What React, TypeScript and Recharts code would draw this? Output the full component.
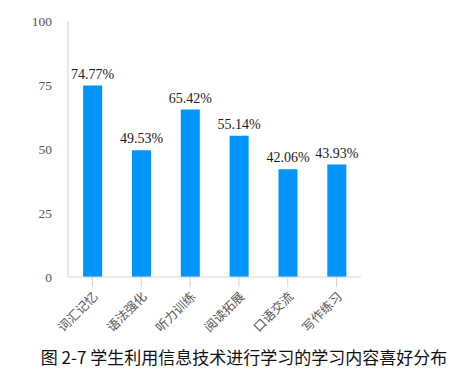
import React from "react";
import { BarChart, Bar, XAxis, YAxis, LabelList } from "recharts";

const categories = ["词汇记忆", "语法强化", "听力训练", "阅读拓展", "口语交流", "写作练习"];
const values = [74.77, 49.53, 65.42, 55.14, 42.06, 43.93];
const yTicks = [0, 25, 50, 75, 100];
const title = "图 2-7 学生利用信息技术进行学习的学习内容喜好分布";

const data = categories.map((name, i) => ({ name, value: values[i] }));

export default function App() {
  return (
    <div style={{ position: "absolute", left: 0, top: 0, width: 456, height: 377, background: "#fff" }}>
      <BarChart
        width={456}
        height={377}
        data={data}
        margin={{ top: 21, right: 95, bottom: 0, left: 0 }}
        barCategoryGap="31%"
      >
        <XAxis
          dataKey="name"
          interval={0}
          angle={-45}
          textAnchor="end"
          height={100}
          tickSize={10}
          tickMargin={4}
          axisLine={{ stroke: "#cfd4d9" }}
          tickLine={{ stroke: "#cfd4d9" }}
          tick={{ fontSize: 12.5, fill: "#555", fontFamily: "Noto Sans CJK SC" }}
        />
        <YAxis
          domain={[0, 100]}
          ticks={yTicks}
          width={68}
          tickLine={false}
          tickSize={14}
          tickMargin={2}
          axisLine={{ stroke: "#cfd4d9" }}
          tick={{ fontSize: 13.5, fill: "#555", fontFamily: "Liberation Serif" }}
        />
        <Bar dataKey="value" fill="#0095FA" isAnimationActive={false}>
          <LabelList
            dataKey="value"
            position="top"
            offset={7}
            formatter={(v: number) => v.toFixed(2) + "%"}
            style={{ fontSize: 14, fill: "#1a1a1a", fontFamily: "Liberation Serif" }}
          />
        </Bar>
      </BarChart>
      <div
        style={{
          position: "absolute",
          left: 0,
          width: 488,
          top: 346,
          textAlign: "center",
          fontFamily: "Noto Sans CJK SC",
          fontSize: 17,
          lineHeight: "22px",
          color: "#111",
          whiteSpace: "nowrap",
        }}
      >
        {title}
      </div>
    </div>
  );
}
